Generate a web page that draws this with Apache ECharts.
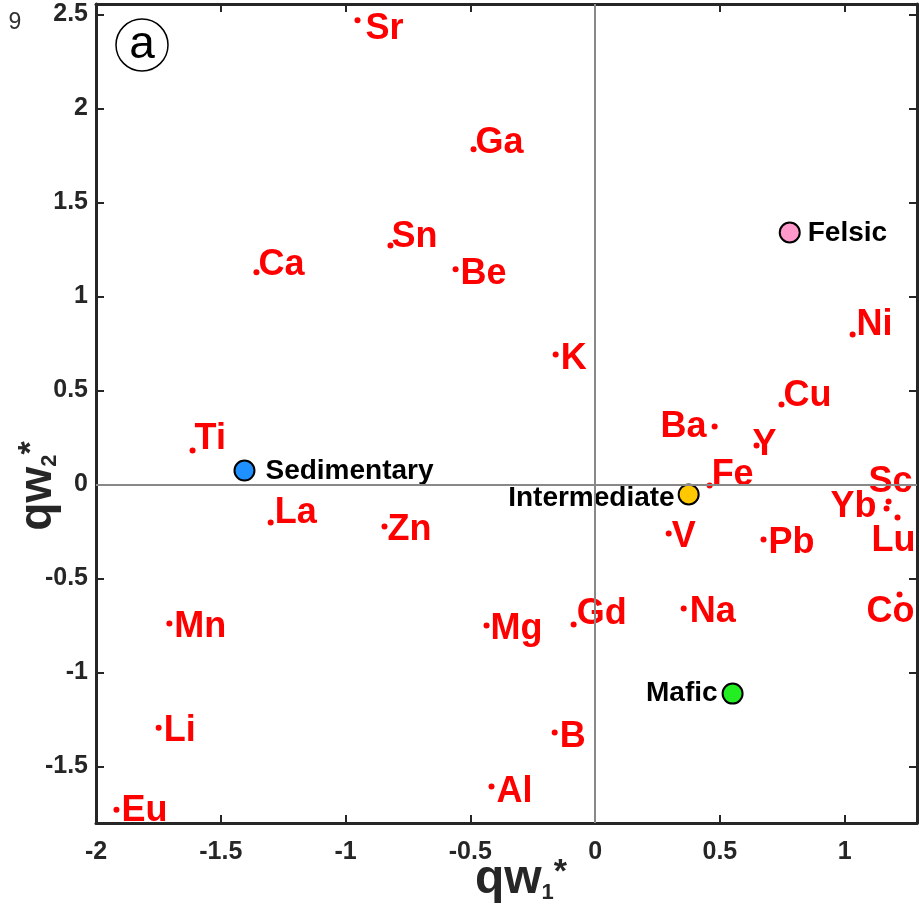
<!DOCTYPE html>
<html>
<head>
<meta charset="utf-8">
<script src="https://cdn.jsdelivr.net/npm/echarts@6/dist/echarts.min.js"></script>
<style>html,body{margin:0;padding:0;background:#fff}#c{width:919px;height:907px}</style>
</head>
<body>
<div id="c"></div>
<script>
// ---- data ----
const elements = ['Sr','Ga','Sn','Ca','Be','K','Ni','Cu','Ba','Y','Fe','Ti','La','Zn','V','Pb','Sc','Yb','Lu','Co','Na','Mn','Mg','Gd','Li','B','Al','Eu'];
const elemQw1 = [-0.952,-0.487,-0.820,-1.357,-0.559,-0.158,1.032,0.747,0.479,0.647,0.459,-1.613,-1.300,-0.844,0.295,0.675,1.176,1.168,1.212,1.220,0.355,-1.706,-0.435,-0.086,-1.749,-0.162,-0.415,-1.918];
const elemQw2 = [2.468,1.782,1.271,1.128,1.144,0.691,0.798,0.426,0.309,0.207,-0.005,0.181,-0.202,-0.223,-0.261,-0.293,-0.090,-0.128,-0.175,-0.585,-0.660,-0.739,-0.750,-0.745,-1.293,-1.319,-1.606,-1.729];
const rockTypes = ['Felsic','Intermediate','Mafic','Sedimentary'];
const rockQw1 = [0.780, 0.375, 0.551, -1.405];
const rockQw2 = [1.340, -0.053, -1.112, 0.074];
const xTicks = [-2,-1.5,-1,-0.5,0,0.5,1];
const yTicks = [-1.5,-1,-0.5,0,0.5,1,1.5,2,2.5];

// ---- label layout (pixel offsets of text from its dot) ----
const elemLabelOffset = {
  Sr:[8,6], Ga:[2,-9], Sn:[1,-11], Ca:[2,-10], Be:[5,2], K:[5,2], Ni:[4,-12], Cu:[2,-11],
  Ba:[-54,-2], Y:[-4,-3], Fe:[2,-13], Ti:[2,-14], La:[4,-12], Zn:[3,1], V:[3,1], Pb:[5,0],
  Sc:[-20,-22], Yb:[-56,-4], Lu:[-26,21], Co:[-33,15], Na:[6,0], Mn:[5,1], Mg:[4,1], Gd:[3,-14],
  Li:[5,0], B:[5,2], Al:[5,3], Eu:[5,-2]
};
const rockStyle = {
  Felsic:{color:'#FF99CC', align:'left', offset:[18,0]},
  Intermediate:{color:'#FFC800', align:'right', offset:[-14,3]},
  Mafic:{color:'#22EE22', align:'right', offset:[-15,-1]},
  Sedimentary:{color:'#1E90FF', align:'left', offset:[21,0]}
};

const FONT = "'Liberation Sans', Arial, sans-serif";
const AX = '#262626';
const LABEL_DY = 3;

const elemData = elements.map((n,i)=>({
  value:[elemQw1[i], elemQw2[i]], name:n,
  label:{offset: [elemLabelOffset[n][0], elemLabelOffset[n][1] + LABEL_DY]}
}));
const rockData = rockTypes.map((n,i)=>({
  value:[rockQw1[i], rockQw2[i]], name:n,
  itemStyle:{color: rockStyle[n].color},
  label:{align: rockStyle[n].align, offset: [rockStyle[n].offset[0], rockStyle[n].offset[1] + 1]}
}));

function xAx(pos, showLabel){
  return {
    type:'value', position:pos, min:-2, max:1.29,
    axisLine:{show:true, onZero:false, lineStyle:{color:AX, width:3}},
    axisTick:{show:true, inside:true, length:8, lineStyle:{color:AX, width:2}, customValues:xTicks},
    axisLabel:{show:showLabel, customValues:xTicks, fontSize:25, fontWeight:'bold', color:AX, fontFamily:FONT, margin:17},
    splitLine:{show:false}
  };
}
function yAx(pos, showLabel){
  return {
    type:'value', position:pos, min:-1.8, max:2.555,
    axisLine:{show:true, onZero:false, lineStyle:{color:AX, width:3}},
    axisTick:{show:true, inside:true, length:8, lineStyle:{color:AX, width:2}, customValues:yTicks},
    axisLabel:{show:showLabel, customValues:yTicks, fontSize:25, fontWeight:'bold', color:AX, fontFamily:FONT, margin:8},
    splitLine:{show:false}
  };
}

const chart = echarts.init(document.getElementById('c'), null, {renderer:'canvas'});
chart.setOption({
  animation:false,
  backgroundColor:'#fff',
  grid:{left:96, right:2, top:4, bottom:84},
  xAxis:[xAx('bottom', true), xAx('top', false)],
  yAxis:[yAx('left', true), yAx('right', false)],
  series:[
    {
      type:'scatter', xAxisIndex:0, yAxisIndex:0,
      symbol:'circle', symbolSize:6,
      itemStyle:{color:'#FF0000', opacity:1},
      label:{show:true, position:'inside', align:'left', verticalAlign:'middle',
        formatter:'{b}', color:'#FF0000', fontSize:36, fontWeight:'bold', fontFamily:FONT},
      emphasis:{disabled:true},
      markLine:{
        silent:true, symbol:'none', animation:false,
        label:{show:false},
        lineStyle:{color:'#888888', width:2, type:'solid', opacity:1},
        data:[{xAxis:0},{yAxis:0}]
      },
      data: elemData, z:3
    },
    {
      type:'scatter', xAxisIndex:0, yAxisIndex:0,
      symbol:'circle', symbolSize:20,
      itemStyle:{borderColor:'#000', borderWidth:2, opacity:1},
      label:{show:true, position:'inside', verticalAlign:'middle',
        formatter:'{b}', color:'#000', fontSize:28, fontWeight:'bold', fontFamily:FONT},
      emphasis:{disabled:true},
      data: rockData, z:4
    }
  ],
  graphic:[
    {type:'circle', shape:{cx:142, cy:45, r:26}, style:{fill:'#fff', stroke:'#000', lineWidth:1.5}, z:10},
    {type:'text', x:142, y:45, style:{text:'a', fontSize:46, fontFamily:FONT, fill:'#000', align:'center', verticalAlign:'middle'}, z:11},
    {type:'text', x:15, y:23, style:{text:'9', fontSize:23, fontFamily:FONT, fill:'#333', align:'center', verticalAlign:'middle'}, z:11},
    {type:'text', x:521, y:880, style:{
      text:'{q|qw}{s|1}{p|*}', align:'center', verticalAlign:'middle',
      rich:{
        q:{fontSize:48, fontWeight:'bold', fontFamily:FONT, fill:AX, color:AX},
        s:{fontSize:22, fontWeight:'bold', fontFamily:FONT, fill:AX, color:AX, verticalAlign:'bottom'},
        p:{fontSize:34, fontWeight:'bold', fontFamily:FONT, fill:AX, color:AX, verticalAlign:'top'}
      }}, z:11},
    {type:'text', x:38, y:486, rotation:Math.PI/2, style:{
      text:'{q|qw}{s|2}{p|*}', align:'center', verticalAlign:'middle',
      rich:{
        q:{fontSize:46, fontWeight:'bold', fontFamily:FONT, fill:AX, color:AX},
        s:{fontSize:22, fontWeight:'bold', fontFamily:FONT, fill:AX, color:AX, verticalAlign:'bottom'},
        p:{fontSize:34, fontWeight:'bold', fontFamily:FONT, fill:AX, color:AX, verticalAlign:'top'}
      }}, z:11}
  ]
});
</script>
</body>
</html>
